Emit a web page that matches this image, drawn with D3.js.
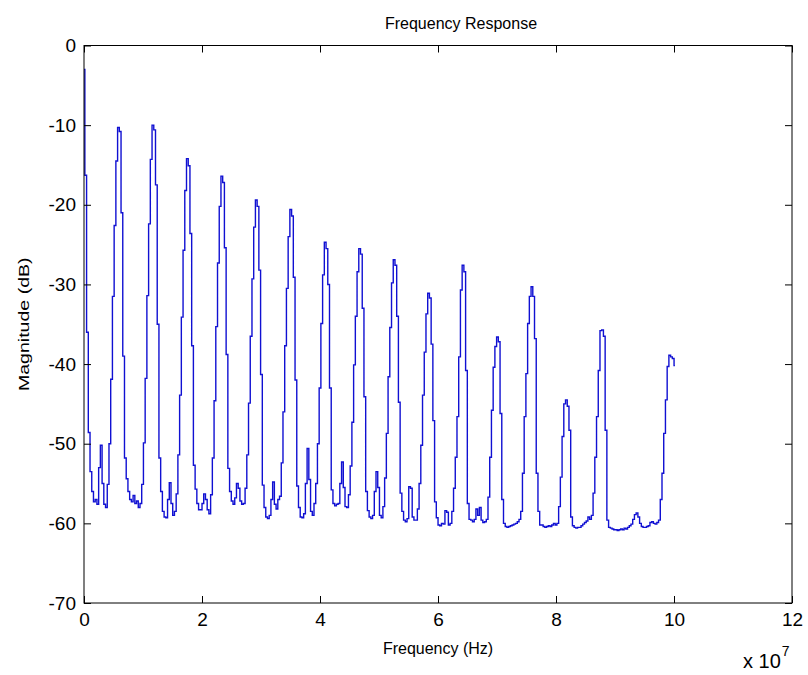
<!DOCTYPE html>
<html>
<head>
<meta charset="utf-8">
<script src="https://cdn.jsdelivr.net/npm/d3@7"></script>
<style>
  html, body { margin: 0; padding: 0; background: #fff; }
  svg { display: block; }
  text { font-family: "Liberation Sans", Arial, sans-serif; fill: #000; }
</style>
</head>
<body>
<svg id="chart"></svg>
<script>
// spectrum bins (one row per ~5.84 MHz period)
const binMHz = 0.292;
const magDb = [
  -3, -16.3, -36, -48.6, -53.5, -56, -57.3, -57, -57.6, -53, -50.2, -55, -57.6, -58, -55.1, -50, -41.9, -31.5, -22.6, -14.5,
  -10.3, -10.8, -21, -39, -51.8, -54.4, -56, -57, -57.3, -56.5, -57.5, -57.2, -58, -57.5, -55.1, -49.9, -41.8, -31.4, -22.4, -14.3,
  -10.0, -10.6, -17.5, -35, -51.8, -56, -58.5, -59.2, -59.3, -57, -54.9, -57.5, -59, -58.5, -56.3, -51.4, -43.9, -34.1, -25.7, -18.2,
  -14.2, -15.1, -23.6, -37.7, -52.7, -55.7, -57.5, -58.3, -58.3, -57.5, -56.3, -57, -58.3, -58.8, -56.4, -51.8, -44.6, -35.3, -27.3, -20.2,
  -16.4, -17.2, -25.4, -38.8, -53.1, -56, -57.2, -57.6, -56.8, -55, -55.6, -57.2, -57.6, -57.5, -55.6, -51.4, -44.9, -36.5, -29.3, -22.8,
  -19.4, -20.2, -28.2, -41.3, -55.2, -58, -59.2, -59.4, -59, -57, -54.8, -57.6, -58.2, -57, -56.6, -52.4, -46, -37.7, -30.5, -24,
  -20.6, -21.4, -29.1, -42, -55.3, -58, -59.2, -59.3, -58.8, -55, -50.6, -54.5, -58.5, -59, -57.5, -55, -50, -43, -34.9, -28.8,
  -24.7, -25.5, -30, -43, -55.8, -57.5, -57.8, -57.6, -57.5, -55, -52.3, -55.5, -57.9, -58, -56.4, -52.8, -47.3, -40.1, -34, -28.4,
  -25.5, -26.2, -33, -44.1, -56, -58.4, -59.2, -59.4, -59, -56, -53.5, -55.5, -59, -59.3, -57.9, -54.3, -48.7, -41.6, -35.4, -29.8,
  -26.9, -27.6, -34, -44.8, -56.2, -58.5, -59.6, -59.8, -59.4, -55.4, -55.6, -59.2, -59.6, -59.6, -58.2, -55, -50.2, -43.9, -38.5, -33.7,
  -31.1, -31.7, -37.5, -47.1, -57.3, -59.3, -60.2, -60.3, -60, -60.1, -58.4, -58.6, -60.2, -60, -58.5, -55.6, -51.7, -46.6, -39.1, -30.7,
  -27.6, -28.4, -40.8, -57.5, -59.5, -59.6, -59.8, -59.5, -58.2, -59, -58, -59.6, -59.9, -59.8, -59.5, -56.7, -51.7, -45.8, -40.4, -37.8,
  -36.6, -37.2, -46.2, -57, -60, -60.4, -60.5, -60.4, -60.3, -60.2, -60.1, -60, -59.8, -59.5, -58.5, -53.7, -46.6, -41.2, -34.9, -31.5,
  -30.3, -31.5, -36.8, -53.7, -58.5, -60.2, -60.2, -60.4, -60.5, -60.4, -60.3, -60.4, -60.2, -60, -60.2, -60, -57.9, -54.2, -49.1, -45,
  -44.5, -45.3, -48.3, -59.2, -60.3, -60.5, -60.6, -60.5, -60.5, -60.3, -60.1, -59.9, -59.7, -59.2, -59.5, -59, -56.2, -51.7, -46.6, -40.8,
  -35.8, -35.7, -36.5, -48.3, -59.6, -60.5, -60.6, -60.7, -60.8, -60.8, -60.9, -60.8, -60.7, -60.8, -60.6, -60.7, -60.5, -60.3, -60.1, -59.5,
  -58.9, -58.7, -59.2, -60, -60.4, -60.5, -60.5, -60.4, -60.3, -59.9, -59.8, -60, -60.1, -59.9, -59.6, -57, -53.7, -48.7, -44.5, -40.3,
  -38.9, -39.1, -39.3, -40.2
];

// axis ticks
const xTicks = [0, 2e7, 4e7, 6e7, 8e7, 10e7, 12e7];
const yTicks = [0, -10, -20, -30, -40, -50, -60, -70];

const width = 808;
const height = 675;
const plotLeft = 84, plotRight = 792, plotTop = 45.5, plotBottom = 603;

const svg = d3.select('#chart')
  .attr('width', width)
  .attr('height', height);

svg.append('rect')
  .attr('width', width)
  .attr('height', height)
  .attr('fill', '#fff');

// scales
const xScale = d3.scaleLinear().domain([0, 12e7]).range([plotLeft, plotRight]);
const yScale = d3.scaleLinear().domain([-70, 0]).range([plotBottom, plotTop]);

// the curve
const line = d3.line()
  .x((d, i) => xScale(i * binMHz * 1e6))
  .y(d => yScale(d))
  .curve(d3.curveStep);

svg.append('path')
  .datum(magDb)
  .attr('d', line)
  .attr('fill', 'none')
  .attr('stroke', '#1010d2')
  .attr('stroke-width', 1.4)
  .attr('stroke-linejoin', 'miter');

// axes, ticks pointing inwards like matlab
const tickLen = 7;

const xAxis = d3.axisBottom(xScale)
  .tickValues(xTicks)
  .tickFormat(d => d / 1e7)
  .tickSizeInner(-tickLen)
  .tickSizeOuter(0)
  .tickPadding(10);

const yAxis = d3.axisLeft(yScale)
  .tickValues(yTicks)
  .tickFormat(d => d)
  .tickSizeInner(-tickLen)
  .tickSizeOuter(0)
  .tickPadding(8);

const gx = svg.append('g')
  .attr('transform', `translate(0,${plotBottom})`)
  .call(xAxis);

const gy = svg.append('g')
  .attr('transform', `translate(${plotLeft},0)`)
  .call(yAxis);

// mirrored ticks on top & right
svg.append('g')
  .attr('transform', `translate(0,${plotTop})`)
  .call(d3.axisTop(xScale).tickValues(xTicks).tickFormat('').tickSizeInner(-tickLen).tickSizeOuter(0));

svg.append('g')
  .attr('transform', `translate(${plotRight},0)`)
  .call(d3.axisRight(yScale).tickValues(yTicks).tickFormat('').tickSizeInner(-tickLen).tickSizeOuter(0));

svg.selectAll('.domain').remove();
svg.selectAll('.tick line').attr('stroke', '#000').attr('stroke-width', 1);

[gx, gy].forEach(g => g.selectAll('text')
  .style('font-family', '"Liberation Sans", Arial, sans-serif')
  .style('font-size', '19px')
  .attr('fill', '#000'));

// box
svg.append('rect')
  .attr('x', plotLeft)
  .attr('y', plotTop)
  .attr('width', plotRight - plotLeft)
  .attr('height', plotBottom - plotTop)
  .attr('fill', 'none')
  .attr('stroke', '#000')
  .attr('stroke-width', 1);

// title & labels
svg.append('text')
  .attr('x', 461)
  .attr('y', 29)
  .attr('text-anchor', 'middle')
  .style('font-size', '16px')
  .text('Frequency Response');

svg.append('text')
  .attr('x', (plotLeft + plotRight) / 2)
  .attr('y', 654)
  .attr('text-anchor', 'middle')
  .style('font-size', '16px')
  .text('Frequency (Hz)');

svg.append('text')
  .attr('transform', `translate(29,${(plotTop + plotBottom) / 2}) rotate(-90) scale(1.15,0.85)`)
  .attr('text-anchor', 'middle')
  .style('font-size', '17px')
  .text('Magnitude (dB)');

// x 10^7 multiplier
const mult = svg.append('text')
  .attr('x', 743)
  .attr('y', 668)
  .style('font-size', '20px');
mult.append('tspan').text('x 10');
mult.append('tspan')
  .attr('dx', 1)
  .attr('dy', -12)
  .style('font-size', '14px')
  .text('7');
</script>
</body>
</html>
